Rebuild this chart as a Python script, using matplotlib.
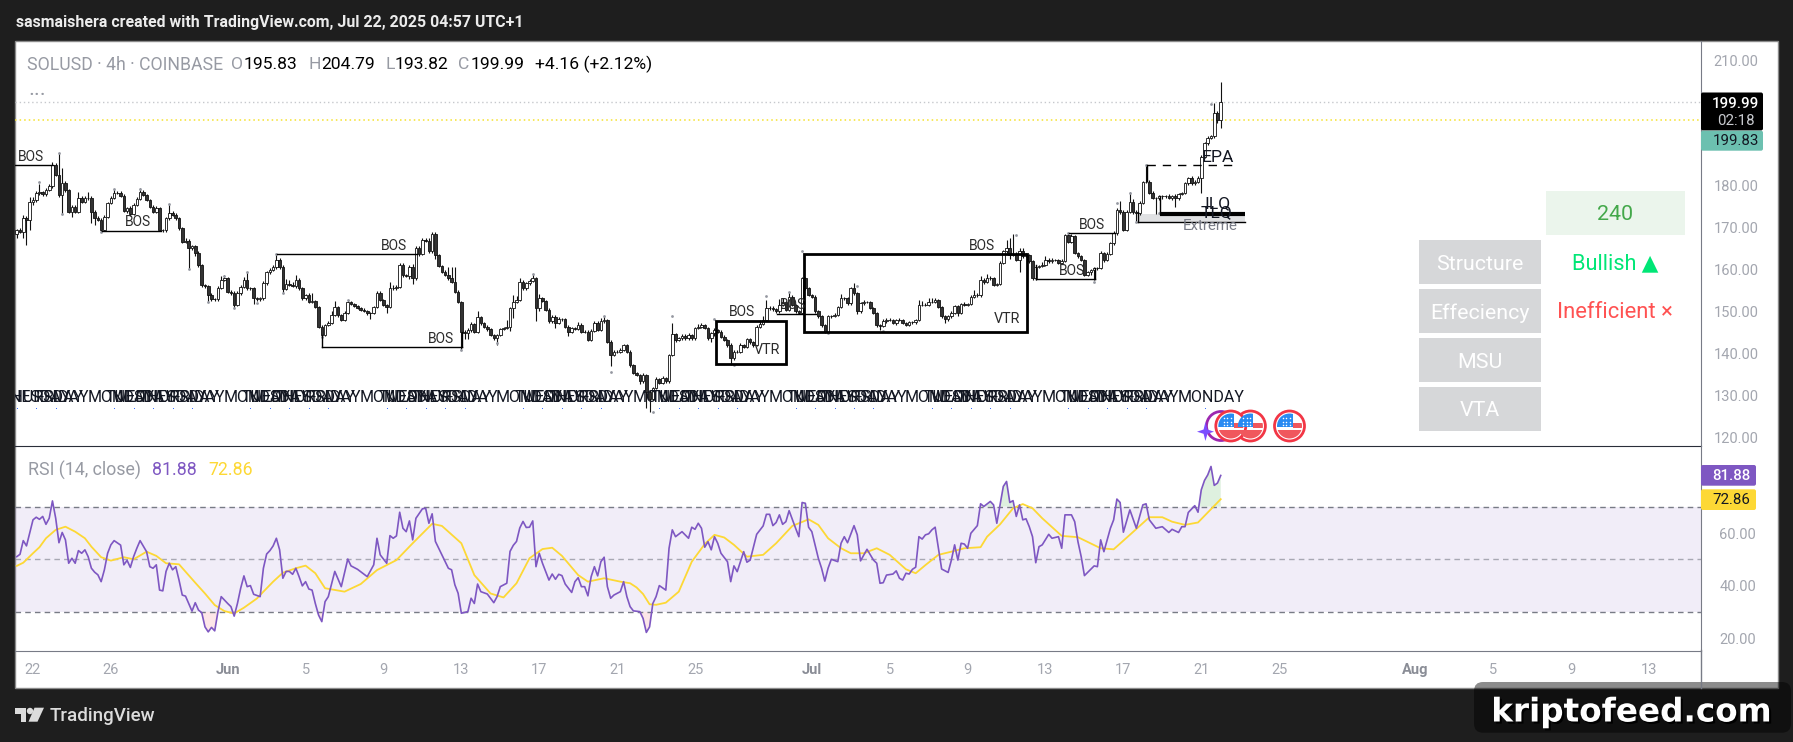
import numpy as np
import pandas as pd
import matplotlib
matplotlib.use('Agg')
import matplotlib.pyplot as plt
from matplotlib.patches import Rectangle, Circle, Polygon, FancyBboxPatch
import matplotlib.patheffects as pe

plt.rcParams['font.family'] = ['Roboto', 'DejaVu Sans']

# 4h closes, SOLUSD, starting the evening of May 21
closes = [
    169.5,169.1,172.3,171.9,176.3,176.7,178.3,178.5,178.1,179.1,
    179.9,185.0,182.6,177.9,180.6,179.1,173.9,175.1,173.9,177.1,
    176.3,177.1,177.2,173.9,172.3,172.0,169.5,172.7,175.9,177.1,
    178.3,178.3,177.6,174.1,174.7,173.3,175.5,176.9,178.5,177.9,
    176.7,175.1,173.9,174.7,169.5,169.4,172.3,173.6,173.1,172.3,
    169.9,166.7,167.0,165.2,165.6,164.0,161.2,156.4,156.2,154.0,
    153.0,153.0,155.8,157.6,158.0,154.8,154.6,151.6,154.4,156.0,
    157.6,155.6,155.6,153.2,153.0,153.2,156.8,159.4,160.0,160.6,
    162.4,160.6,155.4,156.7,156.4,156.2,157.6,155.6,153.2,153.9,
    152.4,152.6,151.2,146.5,144.5,146.9,147.3,149.3,151.1,149.2,
    148.1,149.7,152.4,151.9,151.4,150.9,150.5,150.2,149.7,149.7,
    151.1,154.6,152.8,151.6,151.2,155.6,155.6,156.0,161.2,158.8,
    158.6,160.8,158.0,165.2,163.8,167.1,167.0,164.4,168.6,163.6,
    160.9,159.6,158.8,158.0,157.2,154.8,152.4,145.3,145.0,145.7,
    147.1,145.3,148.7,147.3,146.5,145.8,144.5,143.7,144.5,145.9,
    146.1,146.5,150.8,152.4,152.8,157.2,155.6,156.8,157.4,158.0,
    150.8,153.2,152.6,150.5,147.7,148.7,147.4,148.2,148.2,146.5,
    145.3,146.1,145.9,146.9,145.3,145.3,143.3,145.5,147.3,145.7,
    147.7,148.1,142.9,139.7,140.5,140.5,140.9,142.1,140.5,137.3,
    135.4,135.0,133.4,135.0,131.0,129.2,131.8,133.9,133.0,134.2,
    133.4,139.7,144.7,143.3,143.7,144.3,143.7,144.5,143.7,146.1,146.4,
    146.9,146.1,143.7,144.9,145.7,145.3,144.1,143.3,142.1,138.9,
    140.5,140.5,142.1,141.7,143.5,142.7,142.1,146.5,147.1,148.1,
    150.8,150.8,150.6,150.1,151.6,152.4,150.5,153.6,151.6,150.1,
    149.7,158.0,155.6,154.0,153.6,150.1,148.9,146.9,145.3,148.9,
    149.0,149.3,151.2,153.2,153.2,152.0,155.6,154.4,150.1,152.0,
    152.4,152.4,150.9,149.7,146.9,146.6,147.7,148.1,148.1,147.3,148.0,
    148.1,147.3,146.9,147.5,147.5,148.1,151.6,151.6,151.6,152.4,
    152.4,152.8,151.2,148.9,148.2,148.9,149.8,151.4,149.7,151.9,
    151.6,151.9,153.6,154.0,153.9,157.6,157.2,158.0,158.0,156.4,
    156.6,161.6,164.4,165.2,163.6,163.8,162.4,164.6,163.3,163.6,
    162.0,158.0,160.8,160.9,161.2,162.4,162.0,162.4,162.4,161.6,162.2,
    168.3,166.7,168.1,164.0,163.2,162.4,158.8,159.4,160.0,160.4,
    160.4,164.0,162.4,163.8,166.3,168.7,174.3,173.9,169.5,173.9,
    176.3,173.9,173.5,176.0,181.0,181.0,178.3,177.1,177.1,177.5,
    177.5,177.6,177.1,177.6,177.1,178.1,178.3,180.6,181.8,180.6,181.0,
    181.8,187.0,190.2,191.4,191.8,197.3,195.83,199.99,
]
first_open = 168.6

wick_up = [
    .3,.5,.8,.5,1.0,.6,.5,2.0,.4,.5,
    .5,.6,.4,5.3,3.6,.6,.3,.3,.3,1.4,
    .5,.4,1.3,.3,.3,.5,.3,.3,.4,.6,
    1.0,.6,.5,.4,.4,.5,.4,.4,1.0,.5,
    .3,.3,.3,.5,.4,.3,.3,2.1,.4,.5,
    .4,.3,.5,.3,.4,.3,.4,.3,.3,.3,
    .4,.4,.4,1.0,.9,.3,.4,.3,.5,.5,
    .6,1.8,.4,.3,.4,.3,.5,.4,.4,.5,
    1.4,.5,.5,1.1,.9,.6,1.2,.5,.3,.4,
    .5,1.8,.3,.3,.3,.3,.6,.8,1.4,.4,
    .4,.4,.5,.3,.3,.3,.3,.4,.3,.3,
    .4,.4,.3,.3,.3,1.4,.9,.3,.4,.4,
    .3,.4,.5,.4,.4,.5,.5,.5,.4,.4,
    .3,.3,.4,1.8,2.6,3.4,.3,.3,.3,.5,
    .4,.3,1.5,.3,.3,.3,.3,.3,.3,.3,
    .3,1.6,.4,1.6,1.0,.8,.3,.4,.4,1.0,
    .3,1.0,.4,.3,.3,.6,.6,.6,.3,.3,
    .4,.3,.3,.6,.4,.3,.3,.3,.4,.4,
    .8,.8,.3,.3,.4,.3,.4,.3,.3,.3,
    .3,.3,.3,.4,.3,.3,.3,.5,.3,.4,
    .3,.3,2.6,.3,.3,.5,.3,.4,.3,.3,.8,
    .5,.3,.3,.3,.4,.3,.4,.3,.3,.4,
    .3,.3,.5,.3,.3,.3,.3,.3,1.0,.9,
    2.1,.5,.5,.4,1.5,.8,.3,1.2,.4,.3,
    .3,.3,.3,.3,.3,.3,.3,.3,.3,.3,
    .3,.4,.3,1.0,.4,.3,.3,1.2,.3,.3,
    .4,.3,.3,.3,.3,.3,.5,.5,.4,.3,.4,
    .4,.3,.3,.3,.3,.3,1.3,1.0,.5,1.0,
    1.0,.5,.3,.3,.3,.3,.3,.3,.3,.3,
    .5,.3,.3,1.2,.6,1.0,.5,1.0,.5,.3,
    .3,.4,.4,2.0,2.4,4.7,.4,.6,.6,.4,
    .3,.3,.4,.3,.6,.8,.5,.5,.3,.3,.5,
    .3,.4,.5,.3,.3,.3,.3,.3,.3,.3,
    .3,.5,.3,.4,.4,.6,.4,2.2,.3,.4,
    2.3,.5,.3,.5,.3,4.0,.5,.4,.3,.3,
    .4,.3,.4,.3,.5,.3,.3,.4,.4,.5,.4,
    .5,.3,.4,.4,.4,2.5,.5,4.8,
]
wick_down = [
    1.0,.4,1.5,6.0,2.4,.8,.6,.5,.6,.4,
    .3,.4,.3,.5,4.6,.5,.4,1.2,.3,.4,
    .4,.4,.4,2.8,1.6,.4,.5,.3,.3,.3,
    .3,.3,.3,.4,.5,.4,.3,.3,.3,.3,
    .3,.3,.4,.4,.3,.3,.3,.3,.3,.4,
    .4,.3,.4,5.0,.4,.6,.4,.4,.4,1.6,
    .4,.3,.3,.3,.3,.4,.5,.8,.3,.3,
    .3,.3,.3,1.3,.3,.3,.3,.3,.3,.3,
    .3,.3,.8,.3,.3,.3,.5,.3,.3,.3,
    .3,.3,.4,.4,.5,.3,.3,.3,.3,.4,
    .4,.3,.3,.3,.3,.3,.3,.3,.5,1.4,
    .3,.3,.3,.3,1.4,.3,.3,.3,.3,.4,
    .4,.8,1.4,.3,.6,.3,.3,.4,.3,1.0,
    .3,.3,.3,.4,.3,.3,.3,4.4,1.5,1.4,
    .4,.4,.3,.4,.3,.4,.3,.3,1.6,.3,
    .3,.3,1.0,2.3,.4,.3,.3,.3,.3,.3,
    3.0,.6,.3,.3,.3,.3,1.3,.4,.3,.3,
    1.0,.4,.3,.3,.3,.4,.3,.3,.3,.3,
    .3,.3,.3,2.5,.3,.3,.3,.3,.4,.4,
    .3,.3,.5,.3,4.0,3.0,.3,.3,.3,.3,
    .3,.3,.3,.4,.3,.3,.3,.3,.4,.3,.3,
    .3,.3,.4,1.0,.6,.3,.3,.3,.4,1.6,
    .3,.3,.3,.3,.3,.3,.4,.3,.3,.3,
    .3,.3,.3,.3,.3,.3,.3,.3,.3,.3,
    .3,.3,.4,.3,.3,.3,.3,.4,.4,.3,
    .3,.3,.3,.3,.3,.3,.3,.3,.5,.3,
    .3,.3,.3,.3,.4,1.0,.3,.3,.3,.3,.5,
    .3,.3,.3,.3,.3,.3,.3,.3,.3,.3,
    .3,.3,.3,.3,.8,.3,.3,.3,.6,.3,
    .3,.3,.3,.3,.3,.3,.5,.3,.3,.3,
    .3,.3,.3,.3,1.0,.3,.3,2.8,.5,.3,
    .3,.3,.3,.3,.3,.3,.3,.3,.3,.3,.3,
    .3,.3,.3,.3,.4,.3,.3,.3,.5,2.5,
    .5,.3,.5,.3,.3,.3,.3,.6,.3,.3,
    .3,.6,2.2,.4,.3,.3,.3,.3,3.8,.5,
    .5,.4,.3,.5,2.0,.4,.3,.3,.3,.4,.3,
    .3,3.5,.3,.4,.3,.3,.8,2.01,
]

# swing points marked by the structure script, (bar, price)
pivots = [
    (7,181.0),(13,187.9),(14,173.3),(26,169.0),(30,179.3),(38,179.4),(47,175.7),(53,160.2),(59,152.4),(64,158.6),
    (67,150.8),(71,159.4),(74,152.0),(80,163.8),(82,154.6),(94,144.1),(102,152.8),(137,140.9),(148,142.6),(159,159.0),
    (181,148.9),(183,135.7),(196,126.2),(202,148.9),(215,148.2),(221,137.3),(231,153.8),(238,154.8),(242,164.4),
    (250,145.0),(259,156.2),(267,145.5),(308,168.4),(324,168.7),(332,157.2),(339,175.9),(343,178.4),(345,171.4),
    (348,184.9),(352,173.5),(368,199.6),
]

# RSI (14, close) as (bar number, value)
rsi_points = [
    (0,51.0),(1,51.9),(2,57.1),(3,55.1),(5,65.0),(6,66.0),(7,65.2),(8,66.3),(9,63.3),(10,65.6),(11,72.2),(12,65.6),
    (13,56.3),(14,60.2),(15,57.4),(16,48.5),(17,50.4),(18,48.5),(19,53.3),(20,52.3),(21,53.6),(22,51.0),(23,46.6),
    (24,45.1),(25,44.1),(26,41.5),(27,46.0),(28,52.3),(29,55.5),(30,57.1),(32,55.4),(33,47.9),(34,49.6),(35,46.9),
    (36,51.0),(37,54.2),(38,57.1),(40,52.9),(41,47.2),(42,46.6),(43,47.9),(44,38.3),(45,38.0),(46,45.4),(47,48.5),
    (48,46.0),(49,47.2),(50,42.1),(51,36.4),(52,36.0),(53,33.2),(54,30.3),(55,33.5),(56,30.7),(57,29.7),(58,24.3),
    (59,22.4),(60,24.1),(61,22.8),(62,30.1),(63,35.8),(64,34.5),(65,33.2),(66,32.0),(67,28.4),(68,33.2),(69,39.0),
    (70,43.7),(71,39.6),(72,40.0),(73,36.7),(75,35.8),(76,46.6),(77,52.0),(78,53.3),(79,55.1),(80,58.0),(81,53.6),
    (82,42.8),(83,45.4),(84,45.4),(85,44.3),(86,46.6),(87,43.4),(88,39.9),(89,41.5),(90,38.7),(91,38.3),(92,33.2),
    (93,28.8),(94,26.3),(95,33.9),(96,35.8),(98,45.4),(100,39.6),(102,50.1),(103,47.5),(105,46.2),(107,44.3),
    (108,43.4),(110,47.9),(111,58.0),(112,51.7),(114,48.5),(115,59.0),(116,58.0),(117,58.9),(118,67.9),(119,61.8),
    (120,60.5),(121,64.6),(122,57.4),(123,65.6),(125,69.2),(126,69.4),(127,63.7),(128,67.3),(129,56.8),(131,51.7),
    (133,46.6),(134,46.0),(135,40.3),(136,37.1),(137,29.5),(139,30.1),(140,35.2),(141,33.2),(142,40.6),(143,37.7),
    (145,36.8),(147,33.5),(148,35.8),(149,39.6),(151,40.9),(152,53.0),(153,55.3),(154,56.8),(155,61.9),(156,64.4),
    (157,62.1),(158,62.2),(159,64.6),(160,47.2),(161,52.3),(162,48.5),(164,42.1),(165,44.4),(166,42.4),(167,44.3),
    (168,43.8),(169,40.6),(171,37.4),(172,41.5),(173,43.0),(174,39.6),(175,39.6),(176,36.1),(177,43.4),(178,47.2),
    (179,43.7),(180,49.1),(181,50.8),(182,39.6),(183,35.2),(184,36.4),(186,37.7),(187,41.5),(188,35.8),(189,32.0),
    (190,30.4),(192,30.1),(193,27.5),(194,22.2),(195,24.3),(196,33.2),(197,35.8),(198,40.0),(200,38.3),(201,54.2),
    (202,61.2),(203,58.6),(205,60.5),(207,58.0),(208,62.2),(209,61.4),(210,63.7),(211,61.8),(212,54.6),(213,56.7),
    (214,53.6),(215,58.6),(216,56.1),(217,52.3),(219,49.1),(220,41.5),(221,47.5),(222,45.3),(224,52.9),(225,48.9),
    (226,49.7),(228,59.5),(230,62.7),(231,67.1),(232,67.1),(233,62.8),(234,64.0),(235,66.9),(236,63.3),(237,64.3),
    (238,68.5),(240,61.8),(241,58.6),(242,71.6),(243,71.3),(244,62.2),(245,60.5),(247,50.4),(248,46.6),(249,41.7),
    (250,46.6),(251,50.0),(253,49.1),(254,56.1),(255,58.6),(256,56.3),(258,62.8),(259,59.3),(260,49.4),(262,53.8),
    (264,49.7),(265,48.5),(266,40.9),(267,41.1),(268,44.0),(270,44.4),(271,45.6),(272,42.8),(273,42.1),(274,44.7),
    (275,44.4),(276,46.2),(277,47.0),(278,58.6),(279,57.7),(280,59.3),(281,59.7),(282,61.2),(283,62.2),(285,46.3),
    (287,45.0),(288,49.7),(289,55.5),(290,49.7),(291,56.1),(292,55.8),(293,54.2),(294,59.9),(296,62.8),(297,71.1),
    (298,70.1),(300,72.0),(301,70.7),(302,63.7),(304,77.7),(305,79.6),(306,71.6),(307,72.3),(308,66.3),(309,70.7),
    (310,65.0),(311,65.4),(312,62.4),(313,58.6),(314,48.7),(315,54.8),(316,55.5),(318,59.5),(319,58.0),(321,58.6),
    (322,54.2),(323,66.9),(325,66.9),(326,64.3),(327,56.7),(328,51.0),(329,43.8),(332,47.5),(333,47.2),(334,57.4),
    (335,52.9),(337,61.8),(338,65.0),(339,72.9),(340,71.6),(341,60.3),(343,68.8),(345,61.8),(347,70.7),(348,71.1),
    (349,65.0),(351,61.8),(353,62.4),(355,60.2),(356,61.4),(358,60.2),(359,62.4),(360,62.4),(361,67.8),(363,70.4),
    (364,67.9),(365,76.4),(366,80.0),(367,82.1),(368,85.3),(369,78.1),(370,79.0),(371,81.88),
]

rsi_ma_points = [
    (0,47.5),(2,48.7),(5,52.3),(7,54.6),(9,58.0),(12,61.2),(15,62.4),(18,60.5),(21,58.0),(23,54.8),(26,50.8),(29,49.5),
    (33,50.8),(36,50.0),(40,52.9),(43,51.3),(46,48.5),(50,48.1),(52,45.3),(55,41.1),(58,37.0),(61,32.6),(64,30.3),
    (67,29.4),(70,31.6),(74,35.1),(76,37.7),(79,41.5),(82,44.9),(86,46.6),(89,47.6),(92,44.7),(95,39.0),(101,37.7),
    (106,40.6),(111,45.9),(117,49.7),(122,56.1),(128,63.5),(131,62.7),(137,56.1),(141,44.0),(146,37.0),(150,35.5),
    (154,40.9),(158,50.4),(162,53.9),(165,54.4),(168,51.3),(173,44.0),(176,41.5),(181,42.8),(186,41.5),(189,40.9),
    (191,39.3),(193,36.8),(195,32.9),(197,32.7),(200,33.5),(204,37.7),(208,49.1),(212,55.8),(215,59.3),(218,58.3),
    (221,55.5),(225,51.0),(230,51.7),(234,56.1),(239,62.7),(244,65.2),(247,63.1),(250,58.0),(254,54.2),(257,52.3),
    (261,52.3),(265,54.2),(269,51.7),(274,46.2),(277,44.7),(280,47.8),(284,51.7),(288,52.9),(292,54.2),(297,54.6),
    (299,58.6),(303,63.3),(307,69.4),(310,71.0),(313,69.4),(316,65.6),(322,58.9),(327,58.4),(334,54.2),(338,53.8),
    (343,59.3),(349,66.0),(353,66.0),(356,64.3),(360,63.1),(364,64.0),(371,72.86),
]

price_ticks = [120, 130, 140, 150, 160, 170, 180, 190, 200, 210]
rsi_ticks = [20, 40, 60]
tick_days = ['2025-05-22','2025-05-26','2025-06-01','2025-06-05','2025-06-09','2025-06-13','2025-06-17','2025-06-21',
             '2025-06-25','2025-07-01','2025-07-05','2025-07-09','2025-07-13','2025-07-17','2025-07-21','2025-07-25',
             '2025-08-01','2025-08-05','2025-08-09','2025-08-13']
tick_names = ['22','26','Jun','5','9','13','17','21','25','Jul','5','9','13','17','21','25','Aug','5','9','13']
month_names = ['Jun', 'Jul', 'Aug']

# (first bar, last bar, price) of the structure breaks
bos_lines = [(-1, 11.3, 185.0), (26.3, 44.3, 169.2), (80.3, 123.3, 163.7), (94.1, 137.3, 141.6),
             (234.3, 246.4, 149.5), (324.3, 338.4, 168.7), (314.2, 332.4, 157.8)]
bos_labels = [(4.3, 186.8), (37.3, 171.3), (116.3, 165.7), (130.7, 143.5), (223.4, 149.9), (239.1, 151.6),
              (297.4, 165.7), (331.4, 170.7), (325.1, 159.8)]
# (first bar, last bar, low, high) of the VTR boxes
vtr_boxes = [(215.5, 236.9, 137.6, 147.9), (242.6, 311.3, 145.2, 163.8)]
vtr_labels = [(231.2, 140.8), (305.0, 148.4)]

open_now = 195.83
close_now = 199.99
rsi_now = 81.88
ma_now = 72.86


def bar_of(day):
    # bar 5 opens May 22, six bars per day
    return 5 + 6 * (pd.Timestamp(day) - pd.Timestamp('2025-05-22')).days


def box_px(left, top, right, bottom):
    return [left / W, 1 - bottom / H, (right - left) / W, (bottom - top) / H]


W, H = 1793, 742
GREY = '#a3a6af'
LABEL = '#2b2b2b'
fig = plt.figure(figsize=(W / 100, H / 100), dpi=100, facecolor='#1e1e1e')

back = fig.add_axes([0, 0, 1, 1], zorder=0)
back.set_xlim(0, W)
back.set_ylim(H, 0)
back.axis('off')
back.add_patch(Rectangle((15, 41), 1763, 647, fc='white', ec='#8a8a8a', lw=1))

# price pane
ax = fig.add_axes(box_px(15.3, 41, 1700.7, 446), zorder=2)
ax.set_xlim(-0.45, 518.9)
ax.set_ylim(118.02, 214.56)
ax.patch.set_alpha(0)

bars = np.arange(len(closes))
close_arr = np.array(closes)
open_arr = np.r_[first_open, close_arr[:-1]]
top = np.maximum(open_arr, close_arr)
bottom = np.minimum(open_arr, close_arr)
up = close_arr >= open_arr

ax.axhline(close_now, color='#c6c8cc', lw=1, ls=(0, (1, 2)))
ax.axhline(open_now, color='#f5e12e', lw=1.1, ls=(0, (1, 2)))

ax.vlines(bars, bottom - np.array(wick_down), top + np.array(wick_up), color='#111111', lw=0.8, zorder=3)
ax.bar(bars, top - bottom, bottom=bottom, width=0.8, color=np.where(up, 'white', '#333333'),
       edgecolor='#111111', lw=0.6, zorder=4)
ax.scatter([p[0] for p in pivots], [p[1] for p in pivots], s=4, color='#9598a1', lw=0, zorder=5)

for x0, x1, p in bos_lines:
    ax.plot([x0, x1], [p, p], color='black', lw=1, zorder=5)
ax.plot([94.1, 94.1], [141.6, 144.5], color='black', lw=1, zorder=5)
ax.plot([137.3, 137.3], [141.6, 145.3], color='black', lw=1, zorder=5)
ax.plot([314.2, 314.2], [157.8, 161.2], color='black', lw=1, zorder=5)
ax.plot([332.4, 332.4], [157.8, 160.4], color='black', lw=1, zorder=5)
for x, p in bos_labels:
    ax.text(x, p, 'BOS', ha='center', va='center', fontsize=10, color=LABEL, zorder=6)
for x0, x1, lo, hi in vtr_boxes:
    ax.add_patch(Rectangle((x0, lo), x1 - x0, hi - lo, fc='none', ec='black', lw=2, zorder=5))
for x, p in vtr_labels:
    ax.text(x, p, 'VTR', ha='center', va='center', fontsize=10.4, color=LABEL, zorder=6)

# entry and liquidity levels on the right of the swing
ax.plot([348.3, 376.2], [184.9, 184.9], color='black', lw=1, ls=(0, (6, 5)), zorder=5)
ax.plot([348.3, 348.3], [181.2, 184.9], color='black', lw=1, zorder=5)
ax.add_patch(Rectangle((345.4, 171.4), 33, 1.9, fc='#e0e1e3', ec='none', zorder=2))
ax.plot([345.4, 378.4], [171.4, 171.4], color='black', lw=1, zorder=5)
ax.plot([345.4, 345.4], [171.4, 173.8], color='black', lw=1, zorder=5)
ax.plot([352.4, 378.4], [173.3, 173.3], color='black', lw=3, solid_capstyle='butt', zorder=5)
ax.plot([352.4, 352.4], [173.3, 177.5], color='black', lw=1, zorder=5)
ax.text(370, 186.9, 'EPA', ha='center', va='center', fontsize=12.6, color='#131722', zorder=6)
ax.text(370, 175.9, 'ILQ', ha='center', va='center', fontsize=12.6, color='#131722', zorder=6)
ax.text(369.8, 173.7, 'TLQ', ha='center', va='center', fontsize=12.6, color='#131722', zorder=6)
ax.text(367.6, 170.5, 'Extreme', ha='center', va='center', fontsize=10.8, color='#787b86', zorder=6)

# weekday labels from the session script, they pile up on each other
days = pd.date_range('2025-05-21', '2025-07-21')
for day in days:
    if day.weekday() < 5:
        ax.text(bar_of(day) + 3, 129.7, day.day_name().upper(), ha='center', va='center', fontsize=11.5,
                color='#131722', clip_on=True, zorder=6)
        ax.plot([bar_of(day) + 1], [127.1], marker='s', ms=0.6, mew=0, color='#2962ff', zorder=6)

ax.set_yticks(price_ticks)
ax.set_yticklabels([f'{p:.2f}' for p in price_ticks])
ax.yaxis.tick_right()
ax.tick_params(axis='y', length=0, pad=9.2, labelsize=10.5, labelcolor=GREY)
ax.tick_params(axis='x', length=0, labelbottom=False)
for s in ['top', 'left']:
    ax.spines[s].set_visible(False)
ax.spines['right'].set_color('#787b86')
ax.spines['bottom'].set_color('#2a2e39')

# RSI pane
ax2 = fig.add_axes(box_px(15.3, 446, 1700.7, 650.7), zorder=2)
ax2.set_xlim(-0.45, 518.9)
ax2.set_ylim(15.25, 93.08)
ax2.patch.set_alpha(0)

rsi_bar = np.array([p[0] for p in rsi_points])
rsi_val = np.array([p[1] for p in rsi_points])
ma_bar = np.array([p[0] for p in rsi_ma_points])
ma_val = np.array([p[1] for p in rsi_ma_points])

ax2.axhspan(30, 70, color='#7e57c2', alpha=0.1, lw=0)
ax2.axhline(70, color='#787b86', lw=1, ls=(0, (4, 3)))
ax2.axhline(50, color='#787b86', lw=1, ls=(0, (4, 3)), alpha=0.6)
ax2.axhline(30, color='#787b86', lw=1, ls=(0, (4, 3)))
ax2.fill_between(rsi_bar, rsi_val, 70, where=rsi_val > 70, interpolate=True, color='#4caf50', alpha=0.18, lw=0)
ax2.fill_between(rsi_bar, rsi_val, 30, where=rsi_val < 30, interpolate=True, color='#f23645', alpha=0.12, lw=0)
ax2.plot(ma_bar, ma_val, color='#fdd835', lw=1.3, zorder=4)
ax2.plot(rsi_bar, rsi_val, color='#7e57c2', lw=1.2, zorder=5)

ax2.set_yticks(rsi_ticks)
ax2.set_yticklabels([f'{v:.2f}' for v in rsi_ticks])
ax2.yaxis.tick_right()
ax2.tick_params(axis='y', length=0, pad=13.5, labelsize=10.5, labelcolor=GREY)
ax2.set_xticks([bar_of(d) for d in tick_days])
ax2.set_xticklabels(tick_names)
ax2.tick_params(axis='x', length=0, pad=8.5, labelsize=10.5, labelcolor=GREY)
for lab in ax2.get_xticklabels():
    if lab.get_text() in month_names:
        lab.set_fontweight('bold')
        lab.set_color('#8a8d96')
for s in ['top', 'left']:
    ax2.spines[s].set_visible(False)
ax2.spines['right'].set_color('#787b86')
ax2.spines['bottom'].set_color('#787b86')

# everything drawn in screen position on top of the panes
fg = fig.add_axes([0, 0, 1, 1], zorder=5)
fg.set_xlim(0, W)
fg.set_ylim(H, 0)
fg.axis('off')
fg.patch.set_alpha(0)
fg.plot([1700.7, 1700.7], [650, 688], color='#787b86', lw=1)

fg.text(16, 22.5, 'sasmaishera created with TradingView.com, Jul 22, 2025 04:57 UTC+1', color='#ececec', fontsize=11.45,
        fontweight='bold', va='center')

legend_y = 64.5
fg.text(27, legend_y, 'SOLUSD · 4h · COINBASE', color='#979aa3', fontsize=12.7, va='center')
for x, s, col in [(230.5, 'O', '#979aa3'), (243.5, '195.83', 'black'), (308, 'H', '#979aa3'), (321, '204.79', 'black'),
                  (385.7, 'L', '#979aa3'), (394.5, '193.82', 'black'), (458, 'C', '#979aa3'), (470.5, '199.99', 'black'),
                  (535, '+4.16 (+2.12%)', 'black')]:
    fg.text(x, legend_y, s, color=col, fontsize=12.6, va='center')
fg.text(28, 95, '...', color='#979aa3', fontsize=16, va='baseline')

fg.text(27.5, 470, 'RSI (14, close)', color='#979aa3', fontsize=12.8, va='center')
fg.text(152, 470, '81.88', color='#7e57c2', fontsize=12.8, va='center')
fg.text(208, 470, '72.86', color='#fdd835', fontsize=12.8, va='center')

# last price tags on the scale
fg.add_patch(FancyBboxPatch((1701, 92.5), 62, 38, boxstyle='round,pad=0,rounding_size=2', fc='black', ec='none'))
fg.add_patch(FancyBboxPatch((1701, 130.7), 62, 20, boxstyle='round,pad=0,rounding_size=2', fc='#6cc0b0', ec='none'))
fg.text(1735.5, 103.5, '199.99', color='white', fontsize=10.8, fontweight='medium', ha='center', va='center')
fg.text(1735.5, 121.2, '02:18', color='#c9cbd0', fontsize=10.8, ha='center', va='center')
fg.text(1735.5, 141, '199.83', color='#131722', fontsize=10.8, ha='center', va='center')
fg.add_patch(FancyBboxPatch((1701, 465), 55, 20.7, boxstyle='round,pad=0,rounding_size=2', fc='#7e57c2', ec='none'))
fg.add_patch(FancyBboxPatch((1701, 489.3), 55, 20.7, boxstyle='round,pad=0,rounding_size=2', fc='#fdd835', ec='none'))
fg.text(1731, 475.5, '81.88', color='white', fontsize=10.8, fontweight='medium', ha='center', va='center')
fg.text(1731, 499.6, '72.86', color='#131722', fontsize=10.8, ha='center', va='center')

# status table
for y0, s in zip([240, 289, 338, 387], ['Structure', 'Effeciency', 'MSU', 'VTA']):
    fg.add_patch(Rectangle((1419, y0), 121.5, 44, fc='#d6d7d9', ec='none'))
    fg.text(1480, y0 + 24, s, color='white', fontsize=15.4, ha='center', va='center')
fg.add_patch(Rectangle((1546, 191), 139, 43.7, fc='#ebf5ec', ec='none'))
fg.text(1615, 215, '240', color='#43a84a', fontsize=15.4, ha='center', va='center')
fg.text(1615, 264, 'Bullish ▲', color='#00e676', fontsize=15.6, ha='center', va='center')
fg.text(1615, 313, 'Inefficient ×', color='#ff5252', fontsize=15.8, ha='center', va='center')


def flag(cx, cy, r=15):
    ring = Circle((cx, cy), r, fc='white', ec='#f23645', lw=2, zorder=8)
    fg.add_patch(ring)
    inner = Circle((cx, cy), r - 2.5, transform=fg.transData)
    parts = [Rectangle((cx - r, cy - r), r + 3, r + 1, fc='#2a8bf2', ec='none', zorder=10),
             Rectangle((cx + 3, cy - 3), r, 5, fc='#f0575d', ec='none', zorder=9),
             Rectangle((cx - r, cy + 4), 2 * r, r, fc='#f0575d', ec='none', zorder=9)]
    for part in parts:
        fg.add_patch(part)
        part.set_clip_path(inner)
    for dx in [-7, -3.5, 0]:
        for dy in [-8, -4.5, -1]:
            fg.plot([cx + dx], [cy + dy], marker='o', ms=1.1, mew=0, color='white', zorder=11)


fg.add_patch(Circle((1221, 426), 14.5, fc='white', ec='#9c27b0', lw=2, zorder=7))
fg.add_patch(Polygon([(1197, 431.7), (1203.6, 429.5), (1205.4, 422), (1207.5, 429.5), (1214, 431.7),
                      (1207.5, 433.8), (1205.4, 441), (1203.6, 433.8)], fc='#7b4dff', ec='none', zorder=9))
flag(1250.4, 426)
flag(1230.8, 426)
flag(1289.5, 426)

# TradingView logo and name in the footer
logo = '#dcdcdc'
fg.add_patch(Polygon([(15, 707.7), (26, 707.7), (26, 721.7), (20.5, 721.7), (20.5, 713.5), (15, 713.5)], fc=logo, ec='none'))
fg.add_patch(Circle((30, 711), 3.2, fc=logo, ec='none'))
fg.add_patch(Polygon([(34.5, 707.7), (44, 707.7), (37.5, 721.7), (28.5, 721.7)], fc=logo, ec='none'))
fg.text(50, 716, 'TradingView', color=logo, fontsize=13.5, fontweight='medium', va='center')

# site badge
fg.add_patch(FancyBboxPatch((1474, 682), 317, 50.7, boxstyle='round,pad=0,rounding_size=9',
                            fc='black', ec='none', alpha=0.45))
fg.text(1631.5, 712, 'kriptofeed.com', color='white', fontsize=23.5, fontweight='bold', family='DejaVu Sans',
        ha='center', va='center', path_effects=[pe.withSimplePatchShadow(offset=(1.5, -1.5), shadow_rgbFace='black', alpha=1)])

fig.savefig('out.png', dpi=100, facecolor=fig.get_facecolor())
